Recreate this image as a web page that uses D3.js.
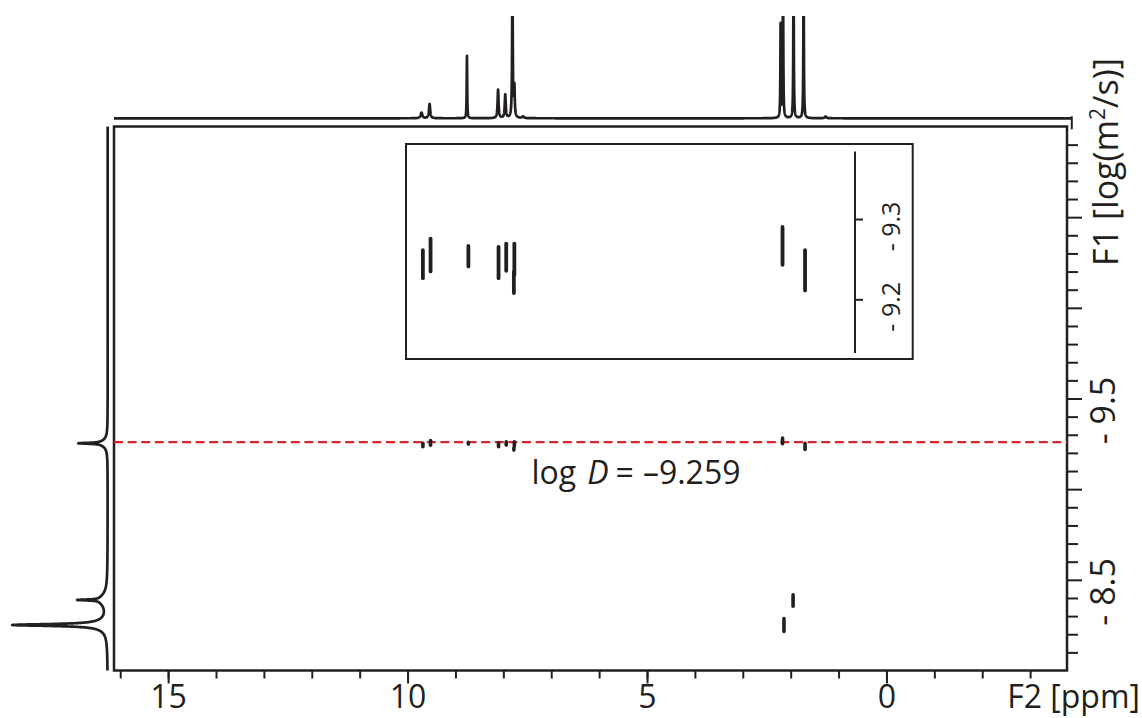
<!DOCTYPE html>
<html>
<head>
<meta charset="utf-8">
<script src="https://cdn.jsdelivr.net/npm/d3@7"></script>
<style>
  html, body { margin: 0; padding: 0; background: #fff; }
  svg { display: block; font-family: "Open Sans", "Noto Sans", sans-serif; }
</style>
</head>
<body>
<svg id="chart" width="1142" height="718"></svg>
<script>
// ---- axes ----
const f2Domain = [16.13, -3.77];           // ppm, left to right
const f2MinorTicks = d3.range(16, -4, -1); // 16 ... -3
const f2MajorTicks = [15, 10, 5, 0];
const f2TickLabels = ["15", "10", "5", "0"];

const f1Domain = [-11, -8];                // log(m^2/s), top to bottom
const f1MinorTicks = d3.range(-109, -80).map(v => v / 10);
const f1MajorTicks = [-10.5, -10, -9.5, -9, -8.5];
const f1LabelTicks = [-9.5, -8.5];

const insetTicks = [-9.3, -9.2];
const insetAxisExtent = [-9.384, -9.133];

// fitted diffusion coefficient
const fitLogD = -9.259;

// ---- DOSY cross peaks: chemical shift and log D extent ----
const crossPpm        = [9.68, 9.52, 8.73, 8.10, 7.94, 7.77, 7.78, 2.17, 1.70, 1.95, 2.14];
const crossLogDTop    = [-9.2635, -9.2780, -9.2689, -9.2676, -9.2717, -9.2717, -9.2365, -9.2925, -9.2635, -8.427, -8.297];
const crossLogDBottom = [-9.2240, -9.2324, -9.2386, -9.2240, -9.2331, -9.2281, -9.2054, -9.2406, -9.2087, -8.344, -8.205];

// ---- 1H projection (F2): shift, intensity, half width ----
const hPpm    = [9.71, 9.54, 8.76, 8.11, 7.96, 7.81, 7.77, 7.59, 2.21, 2.16, 1.94, 1.73, 1.27];
const hHeight = [5.5, 14, 61, 27.7, 22.8, 140, 29, 1.7, 91, 160, 160, 160, 1.7];
const hWidth  = [0.02, 0.015, 0.006, 0.012, 0.012, 0.008, 0.01, 0.02, 0.006, 0.006, 0.006, 0.006, 0.02];

// ---- diffusion projection (F1): log D, intensity, half width ----
const dLogD   = [-9.253, -9.253, -8.389, -8.389, -8.251, -8.251];
const dHeight = [22.4, 7, 22, 8, 85, 10];
const dWidth  = [0.003, 0.022, 0.003, 0.035, 0.006, 0.03];

const ink = "#231f20";
const red = "#d7262f";
const svg = d3.select("#chart");

// ---- scales ----
const x = d3.scaleLinear().domain(f2Domain).range([114, 1067]);
const y = d3.scaleLinear().domain(f1Domain).range([126.5, 670.5]);
const topI = d3.scaleLinear().domain([0, 100]).range([118.3, 16]);
const leftI = d3.scaleLinear().domain([0, 100]).range([107.7, 7.7]);
const insetY = d3.scaleLinear().domain([-9.3, -9.2]).range([219, 299.3]);

// Lorentzian line shape summed over a peak list
function trace(lo, hi, n, centers, heights, widths) {
  const pts = d3.range(n + 1).map(i => lo + (hi - lo) * i / n).concat(centers);
  pts.sort((a, b) => a - b);
  return pts.map(t => [t, d3.sum(centers, (c, i) => heights[i] * widths[i] * widths[i] / ((t - c) * (t - c) + widths[i] * widths[i]))]);
}

const defs = svg.append("defs");
defs.append("clipPath").attr("id", "topClip")
  .append("rect").attr("x", 0).attr("y", topI(100)).attr("width", 1142).attr("height", topI(0) - topI(100) + 10);

// ---- 1H projection on top ----
const topData = trace(-3.87, f2Domain[0], 10000, hPpm, hHeight, hWidth);
svg.append("path")
  .datum(topData)
  .attr("clip-path", "url(#topClip)")
  .attr("fill", "none")
  .attr("stroke", ink)
  .attr("stroke-width", 2.7)
  .attr("stroke-linejoin", "round")
  .attr("d", d3.line().x(d => x(d[0])).y(d => topI(d[1])));
svg.append("line")
  .attr("x1", x(-3.87)).attr("x2", x(-3.87))
  .attr("y1", topI(0) - 2).attr("y2", topI(0) + 11)
  .attr("stroke", ink).attr("stroke-width", 2);

// ---- diffusion projection on the left ----
const leftData = trace(f1Domain[0], f1Domain[1], 8000, dLogD, dHeight, dWidth);
svg.append("path")
  .datum(leftData)
  .attr("fill", "none")
  .attr("stroke", ink)
  .attr("stroke-width", 2.7)
  .attr("stroke-linejoin", "round")
  .attr("d", d3.line().x(d => leftI(d[1])).y(d => y(d[0])));

// ---- plot frame ----
svg.append("rect")
  .attr("x", x.range()[0]).attr("y", y.range()[0])
  .attr("width", x.range()[1] - x.range()[0])
  .attr("height", y.range()[1] - y.range()[0])
  .attr("fill", "none").attr("stroke", ink).attr("stroke-width", 2.5);

// ---- bottom axis ----
function styleAxis(g) {
  g.select(".domain").remove();
  g.attr("font-family", null).attr("font-size", null).style("color", ink);
  g.selectAll("line").attr("stroke-width", 2);
}
svg.append("g")
  .attr("transform", `translate(0,${y.range()[1]})`)
  .call(d3.axisBottom(x).tickValues(f2MinorTicks).tickSize(8).tickSizeOuter(0).tickFormat(""))
  .call(styleAxis);
svg.append("g")
  .attr("transform", `translate(0,${y.range()[1]})`)
  .call(d3.axisBottom(x).tickValues(f2MajorTicks).tickSize(13).tickPadding(2).tickSizeOuter(0)
    .tickFormat((d, i) => f2TickLabels[i]))
  .call(styleAxis)
  .selectAll("text").attr("font-size", 32).attr("fill", ink);

svg.append("text")
  .attr("x", 1140).attr("y", 708)
  .attr("text-anchor", "end")
  .attr("font-size", 32).attr("fill", ink)
  .text("F2 [ppm]");

// ---- right axis (log D) ----
svg.append("g")
  .attr("transform", `translate(${x.range()[1]},0)`)
  .call(d3.axisRight(y).tickValues(f1MinorTicks.filter(v => !f1MajorTicks.some(m => Math.abs(m - v) < 1e-6)))
    .tickSize(11).tickSizeOuter(0).tickFormat(""))
  .call(styleAxis);
svg.append("g")
  .attr("transform", `translate(${x.range()[1]},0)`)
  .call(d3.axisRight(y).tickValues(f1MajorTicks).tickSize(15).tickSizeOuter(0).tickFormat(""))
  .call(styleAxis);

const signed = v => (v < 0 ? "- " : "") + d3.format(".1f")(Math.abs(v));
svg.selectAll(".f1label")
  .data(f1LabelTicks)
  .join("text")
  .attr("class", "f1label")
  .attr("transform", d => `translate(1115,${y(d) + 12}) rotate(-90)`)
  .attr("text-anchor", "middle")
  .attr("font-size", 34).attr("fill", ink)
  .text(signed);

const f1Title = svg.append("text")
  .attr("transform", "translate(1118,162) rotate(-90)")
  .attr("text-anchor", "middle")
  .attr("font-size", 34).attr("fill", ink);
f1Title.append("tspan").text("F1 [log(m");
f1Title.append("tspan").attr("font-size", 21).attr("dy", -13).text("2");
f1Title.append("tspan").attr("dy", 13).text("/s)]");

// ---- fitted log D line ----
svg.append("line")
  .attr("x1", x.range()[0]).attr("x2", x.range()[1])
  .attr("y1", y(fitLogD)).attr("y2", y(fitLogD))
  .attr("stroke", red).attr("stroke-width", 2.3)
  .attr("stroke-dasharray", "9 4.6");

// ---- cross peaks drawn as narrow rounded bars ----
const peaks = crossPpm.map((p, i) => ({ppm: p, top: crossLogDTop[i], bottom: crossLogDBottom[i]}));
function drawPeaks(g, yScale, w) {
  g.selectAll("rect")
    .data(peaks)
    .join("rect")
    .attr("x", d => x(d.ppm) - w / 2)
    .attr("y", d => Math.min(yScale(d.top), yScale(d.bottom)))
    .attr("width", w)
    .attr("height", d => Math.abs(yScale(d.bottom) - yScale(d.top)))
    .attr("rx", w / 2)
    .attr("fill", ink);
}
svg.append("g").call(drawPeaks, y, 3.6);

// ---- log D annotation ----
const ann = svg.append("text")
  .attr("x", 636).attr("y", 484)
  .attr("text-anchor", "middle")
  .attr("font-size", 32).attr("fill", ink);
ann.append("tspan").text("log");
ann.append("tspan").attr("dx", 11).attr("font-style", "italic").text("D");
ann.append("tspan").attr("dx", 7).text("=");
ann.append("tspan").attr("dx", 9).text("\u2013" + d3.format(".3f")(Math.abs(fitLogD)));

// ---- inset: expanded log D region ----
const inset = {x0: 406, x1: 912.7, y0: 144, y1: 359, axisX: 855};
defs.append("clipPath").attr("id", "insetClip")
  .append("rect").attr("x", inset.x0).attr("y", inset.y0)
  .attr("width", inset.x1 - inset.x0).attr("height", inset.y1 - inset.y0);

svg.append("rect")
  .attr("x", inset.x0).attr("y", inset.y0)
  .attr("width", inset.x1 - inset.x0).attr("height", inset.y1 - inset.y0)
  .attr("fill", "#fff").attr("stroke", ink).attr("stroke-width", 2);

svg.append("g").attr("clip-path", "url(#insetClip)").call(drawPeaks, insetY, 3.8);

svg.append("line")
  .attr("x1", inset.axisX).attr("x2", inset.axisX)
  .attr("y1", insetY(insetAxisExtent[0])).attr("y2", insetY(insetAxisExtent[1]))
  .attr("stroke", ink).attr("stroke-width", 2);
svg.append("g")
  .attr("transform", `translate(${inset.axisX},0)`)
  .call(d3.axisRight(insetY).tickValues(insetTicks).tickSize(8).tickSizeOuter(0).tickFormat(""))
  .call(styleAxis);
svg.selectAll(".insetlabel")
  .data(insetTicks)
  .join("text")
  .attr("class", "insetlabel")
  .attr("transform", d => `translate(900,${insetY(d) + 7.5}) rotate(-90)`)
  .attr("text-anchor", "middle")
  .attr("font-size", 25).attr("fill", ink)
  .text(signed);
</script>
</body>
</html>
